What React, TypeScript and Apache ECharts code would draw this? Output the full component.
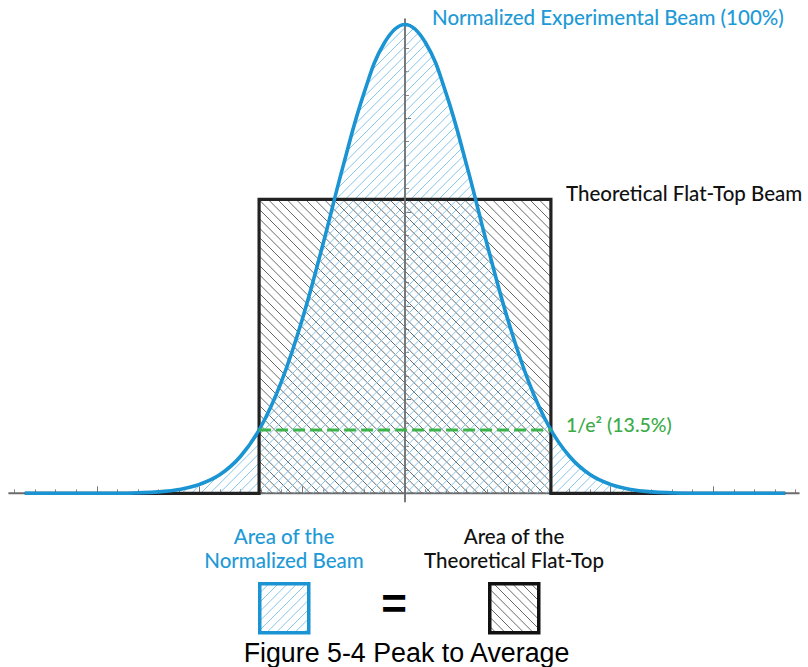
import React, { useEffect, useRef } from 'react';
import * as echarts from 'echarts';

// Gaussian beam profile (position in tick units, intensity in % of peak)
const beamX = [-18.5, -18, -17, -16, -15, -14, -13, -12, -11, -10, -9, -8, -7, -6, -5, -4, -3, -2, -1, 0,
  1, 2, 3, 4, 5, 6, 7, 8, 9, 10, 11, 12, 13, 14, 15, 16, 17, 18, 18.5];
const beamY = [0, 0, 0, 0, 0, 0, 0.1, 0.3, 0.8, 1.9, 4.0, 7.9, 14.3, 24.0, 37.1, 53.0, 70.0, 85.3, 96.1, 100,
  96.1, 85.3, 70.0, 53.0, 37.1, 24.0, 14.3, 7.9, 4.0, 1.9, 0.8, 0.3, 0.1, 0, 0, 0, 0, 0, 0];

// Equal-area flat-top profile
const flatX = [-18.5, -7.1, -7.1, 7.1, 7.1, 18.5];
const flatY = [0, 0, 62.7, 62.7, 0, 0];

// 1/e^2 level across the beam width
const e2X = [-7.1, 7.1];
const e2Y = [13.5, 13.5];

// Axis line extents
const hAxisX = [-19.3, 19.2];
const vAxisY = [-1.9, 101.3];

const BLUE = '#1a94d2';
const TEXT_BLUE = '#1e9ad6';
const GREEN = '#3cb44a';
const FONT = 'Lato, "Noto Sans", sans-serif';
const LABEL_FONT = `500 20.5px ${FONT}`;

// The chart canvas is a little wider than the page so that the
// outer (-20 / +20) ticks fall just outside the visible area.
const CHART_W = 822;
const SHIFT = 6;

function zip(xs: number[], ys: number[]) {
  return xs.map((x, i) => [x, ys[i]]);
}

// Diagonal hatch tile used as a repeating fill
function hatch(color: string, rising: boolean, lineWidth: number) {
  const s = 28;
  const step = s / 3;
  const c = document.createElement('canvas');
  c.width = s;
  c.height = s;
  const ctx = c.getContext('2d')!;
  ctx.strokeStyle = color;
  ctx.lineWidth = lineWidth;
  ctx.beginPath();
  for (let o = -2 * s; o <= 2 * s + 0.01; o += step) {
    if (rising) {
      // x + y = o
      ctx.moveTo(o + s + 4, -s - 4);
      ctx.lineTo(o - 2 * s - 4, 2 * s + 4);
    } else {
      // y - x = o
      ctx.moveTo(-s - 4, -s - 4 + o);
      ctx.lineTo(2 * s + 4, 2 * s + 4 + o);
    }
  }
  ctx.stroke();
  return { image: c.toDataURL(), repeat: 'repeat', imageWidth: s, imageHeight: s } as any;
}

function label(text: string, x: number, y: number, fill: string, align: string, font = LABEL_FONT) {
  return {
    type: 'text',
    x: x + SHIFT,
    y,
    style: { text, fill, font, align, verticalAlign: 'middle' },
  };
}

export default function App() {
  const ref = useRef<HTMLDivElement>(null);

  useEffect(() => {
    if (!ref.current) return;
    const chart = echarts.init(ref.current, null, { renderer: 'svg' });
    const blueHatch = hatch('#86c5ea', true, 1);
    const blackHatch = hatch('#6a6a6a', false, 1);

    const option: any = {
      animation: false,
      backgroundColor: '#ffffff',
      grid: { left: 0, right: 0, top: 24.5, bottom: 173.7 },
      xAxis: {
        type: 'value',
        min: -20,
        max: 20,
        interval: 5,
        axisLine: { show: false, onZero: true },
        axisTick: { show: true, inside: true, length: 7, lineStyle: { color: '#777', width: 1 } },
        minorTick: { show: true, splitNumber: 5, length: 4, lineStyle: { color: '#888', width: 1 } },
        axisLabel: { show: false },
        splitLine: { show: false },
        minorSplitLine: { show: false },
      },
      yAxis: {
        type: 'value',
        min: 0,
        max: 100,
        interval: 20,
        axisLine: { show: false, onZero: true },
        axisTick: { show: true, inside: true, length: 6, lineStyle: { color: '#777', width: 1 } },
        minorTick: { show: true, splitNumber: 4, length: 4, lineStyle: { color: '#888', width: 1 } },
        axisLabel: { show: false },
        splitLine: { show: false },
        minorSplitLine: { show: false },
      },
      series: [
        {
          name: 'hAxis',
          type: 'line',
          z: 1,
          clip: false,
          silent: true,
          symbol: 'none',
          data: zip(hAxisX, [0, 0]),
          lineStyle: { color: '#6b6b6b', width: 2 },
        },
        {
          name: 'Theoretical Flat-Top Beam',
          type: 'line',
          z: 2,
          symbol: 'none',
          data: zip(flatX, flatY),
          lineStyle: { color: '#222222', width: 3.2, join: 'miter' },
          areaStyle: { color: blackHatch, opacity: 1, origin: 'start' },
        },
        {
          name: 'vAxis',
          type: 'line',
          z: 2,
          clip: false,
          silent: true,
          symbol: 'none',
          data: zip([0, 0], vAxisY),
          lineStyle: { color: '#6b6b6b', width: 1.8 },
        },
        {
          name: 'Normalized Experimental Beam',
          type: 'line',
          z: 2,
          symbol: 'none',
          smooth: 0.4,
          data: zip(beamX, beamY),
          lineStyle: { color: BLUE, width: 3.6 },
          areaStyle: { color: blueHatch, opacity: 1, origin: 'start' },
        },
        {
          name: '1/e2',
          type: 'line',
          z: 2,
          symbol: 'none',
          data: zip(e2X, e2Y),
          lineStyle: { color: GREEN, width: 3, type: [12, 5] },
        },
      ],
      graphic: [
        label('Normalized Experimental Beam (100%)', 432, 17, TEXT_BLUE, 'left'),
        label('Theoretical Flat-Top Beam', 566, 193, '#111', 'left'),
        label('1/e² (13.5%)', 566, 424, '#3aab48', 'left', `500 19.5px ${FONT}`),
        label('Area of the', 284, 536, TEXT_BLUE, 'center'),
        label('Normalized Beam', 284, 560, TEXT_BLUE, 'center'),
        label('Area of the', 514, 536, '#111', 'center'),
        label('Theoretical Flat-Top', 514, 560, '#111', 'center'),
        {
          type: 'rect',
          shape: { x: 259.75 + SHIFT, y: 583.75, width: 49, height: 49 },
          style: { fill: blueHatch, stroke: BLUE, lineWidth: 3.5 },
        },
        label('=', 394, 603, '#000', 'center', `bold 44px "Liberation Sans", Arial, sans-serif`),
        {
          type: 'rect',
          shape: { x: 489.75 + SHIFT, y: 583.75, width: 49, height: 49 },
          style: { fill: blackHatch, stroke: '#111', lineWidth: 3.5 },
        },
        label('Figure 5-4 Peak to Average', 406.5, 653, '#000', 'center', `26.8px "Liberation Sans", Arial, sans-serif`),
      ],
    };

    chart.setOption(option);
    return () => chart.dispose();
  }, []);

  return (
    <div style={{ position: 'fixed', left: 0, top: 0, width: 808, height: 667, overflow: 'hidden', background: '#fff' }}>
      <div
        ref={ref}
        style={{ position: 'absolute', left: -SHIFT, top: 0, width: CHART_W, height: 667 }}
      />
    </div>
  );
}
